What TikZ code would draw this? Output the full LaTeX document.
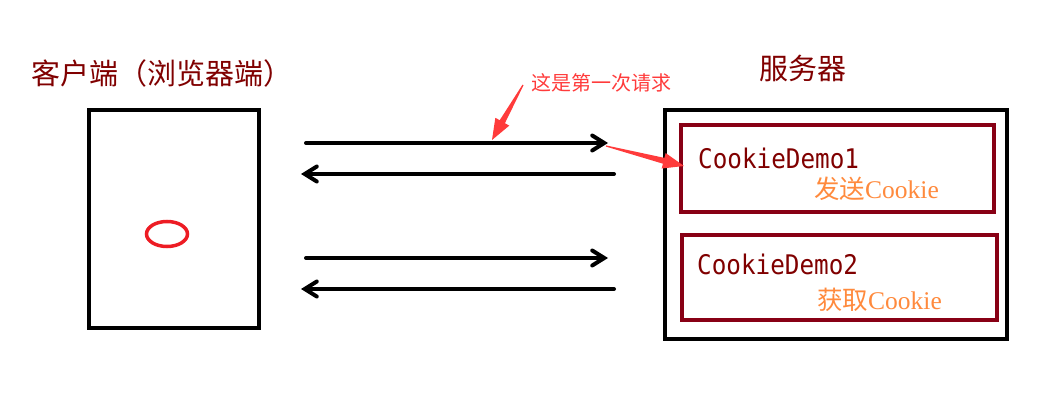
\documentclass[tikz,border=0pt]{standalone}
\usepackage{fontspec}
\newfontfamily\cjk{Noto Sans CJK SC}
\newfontfamily\monof[FakeStretch=0.9]{DejaVu Sans Mono}
\newfontfamily\serifl{Liberation Serif}
\usetikzlibrary{arrows.meta,calc}
\definecolor{darkred}{HTML}{800000}
\definecolor{boxred}{HTML}{880015}
\definecolor{orangetxt}{HTML}{FF8A3D}
\definecolor{callred}{HTML}{FF3B3B}
\definecolor{ellred}{HTML}{ED1C24}
\tikzset{
  titletext/.style={font=\cjk\fontsize{29}{31}\selectfont, text=darkred, inner sep=0pt},
  blackbox/.style={draw=black, line width=4pt, inner sep=0pt},
  redbox/.style={draw=boxred, line width=4pt, inner sep=0pt},
  demotext/.style={font=\monof\fontsize{27}{30}\selectfont, text=darkred, inner sep=0pt, anchor=base west},
  actiontext/.style={font=\fontsize{25.5}{28}\selectfont, text=orangetxt, inner sep=0pt, anchor=base west},
  flow/.style={draw=black, line width=4pt, line cap=round, -{Straight Barb[length=12pt,width=15pt,line cap=round]}},
  calltext/.style={font=\cjk\fontsize{20}{22}\selectfont, text=callred, inner sep=0pt}
}
\newcommand\mycallout[2]{%
  \coordinate (#1-b) at ($(#2)!21pt!(#1)$);
  \fill[callred] ($(#1)!0.6pt!90:(#2)$) -- ($(#1-b)!3pt!90:(#2)$) -- ($(#1-b)!8pt!90:(#2)$) -- (#2)
    -- ($(#1-b)!8pt!-90:(#2)$) -- ($(#1-b)!3pt!-90:(#2)$) -- ($(#1)!0.6pt!-90:(#2)$) -- cycle;}
\begin{document}
\begin{tikzpicture}[x=1pt,y=-1pt]
\useasboundingbox (0,0) rectangle (1057,401);
% titles
\node[titletext] (ct) at (162,73) {客户端（浏览器端）};
\node[titletext] (st) at (803,68) {服务器};
% client
\node[blackbox, minimum width=170pt, minimum height=218pt] (client) at (174,219) {};
\draw[ellred, line width=3.5pt] (167,234) ellipse [x radius=20.5pt, y radius=12.5pt];
% server
\node[blackbox, minimum width=342pt, minimum height=229pt] (server) at (836,224.5) {};
\node[redbox, minimum width=313pt, minimum height=87pt] (box1) at (837.5,168.5) {};
\node[redbox, minimum width=315pt, minimum height=85pt] (box2) at (839.5,277.5) {};
\node[demotext] (d1) at (698,168) {CookieDemo1};
\node[demotext] (d2) at (697,274) {CookieDemo2};
\node[actiontext] (a1) at (814,198) {{\cjk 发送}{\serifl Cookie}};
\node[actiontext] (a2) at (817,309) {{\cjk 获取}{\serifl Cookie}};
% flow arrows
\coordinate (r1s) at (306,143); \coordinate (r1e) at (608,143);
\coordinate (l1s) at (614,174); \coordinate (l1e) at (301,174);
\coordinate (r2s) at (306,258); \coordinate (r2e) at (608,258);
\coordinate (l2s) at (614,289); \coordinate (l2e) at (301,289);
\draw[flow] (r1s) -- (r1e);
\draw[flow] (l1s) -- (l1e);
\draw[flow] (r2s) -- (r2e);
\draw[flow] (l2s) -- (l2e);
% callout
\node[calltext] (call) at (601,82.5) {这是第一次请求};
\coordinate (c1s) at (523,85); \coordinate (c1t) at (492,140);
\mycallout{c1s}{c1t}
\coordinate (c2s) at (606,146); \coordinate (c2t) at (684,166);
\mycallout{c2s}{c2t}
\end{tikzpicture}
\end{document}
